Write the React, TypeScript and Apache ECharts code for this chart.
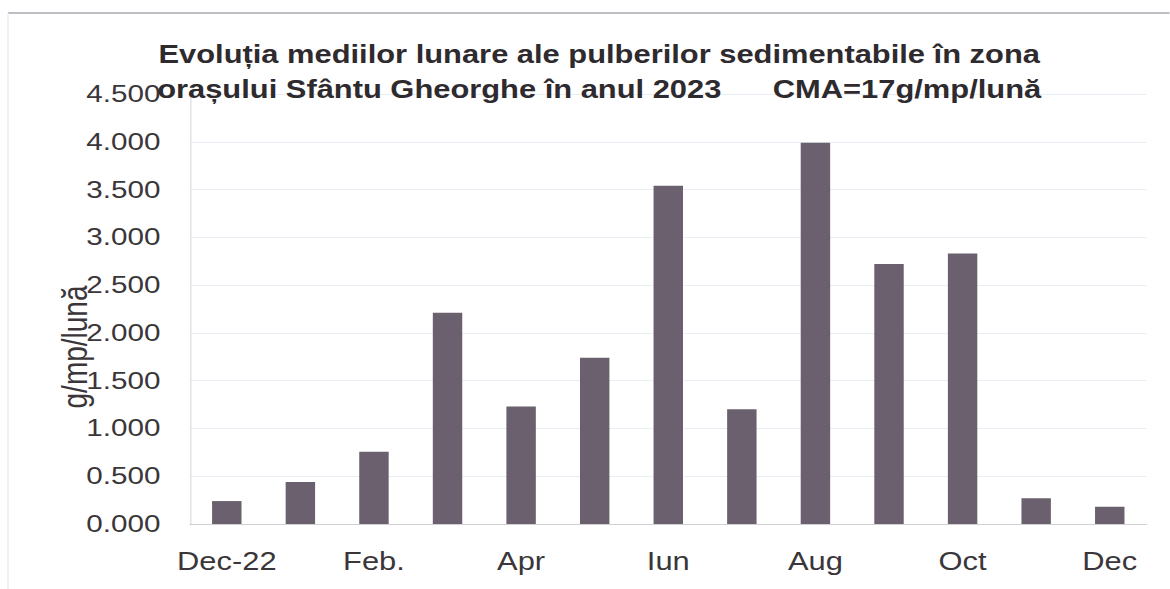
import React, { useEffect, useRef } from "react";
import * as echarts from "echarts";

const months = ["Dec-22", "Ian.", "Feb.", "Mar", "Apr", "Mai", "Iun", "Iul", "Aug", "Sep", "Oct", "Nov", "Dec"];
const values = [0.24, 0.44, 0.755, 2.21, 1.23, 1.74, 3.54, 1.2, 3.99, 2.72, 2.83, 0.27, 0.18];
const titleLines = [
  "Evoluția mediilor lunare ale pulberilor sedimentabile în zona",
  "orașului Sfântu Gheorghe în anul 2023      CMA=17g/mp/lună",
];
const yAxisName = "g/mp/lună";

// the reference is a horizontally stretched scan: draw narrower and stretch
const SX = 1.235;
const W = 1170 / SX;

export default function App() {
  const ref = useRef<HTMLDivElement>(null);
  useEffect(() => {
    const chart = echarts.init(ref.current!, null, { renderer: "svg" });
    chart.setOption({
      animation: false,
      backgroundColor: "#ffffff",
      textStyle: { fontFamily: "Liberation Sans, Arial, sans-serif" },
      title: {
        text: titleLines.join("\n"),
        left: 593 / SX,
        textAlign: "center",
        top: 32,
        textStyle: {
          fontFamily: "Liberation Sans, Arial, sans-serif",
          fontWeight: "bold",
          fontSize: 25,
          lineHeight: 35,
          color: "#2e2a2e",
        },
      },
      graphic: [
        { type: "line", shape: { x1: 8 / SX, y1: 13, x2: W, y2: 13 }, style: { stroke: "#a9a9b0", lineWidth: 1.5 } },
        { type: "line", shape: { x1: 8 / SX, y1: 13, x2: 8 / SX, y2: 589 }, style: { stroke: "#e4eaf0", lineWidth: 1 } },
      ],
      grid: { left: 190 / SX, right: 23 / SX, top: 94, bottom: 65 },
      xAxis: {
        type: "category",
        data: months,
        axisLine: { show: true, lineStyle: { color: "#cfcfd4", width: 1 } },
        axisTick: { show: false },
        axisLabel: {
          interval: 1,
          fontSize: 25,
          color: "#3a363a",
          margin: 25,
        },
      },
      yAxis: {
        type: "value",
        min: 0,
        max: 4.5,
        interval: 0.5,
        name: yAxisName,
        nameLocation: "middle",
        nameGap: 79,
        nameRotate: 90,
        nameMoveOverlap: false,
        nameTextStyle: { fontSize: 28, color: "#3a363a", padding: [0, 76, 0, 0] },
        axisLine: { show: true, lineStyle: { color: "#dcdce2" } },
        axisTick: { show: false },
        splitLine: { lineStyle: { color: "#e8eef3", width: 1 } },
        axisLabel: {
          fontSize: 24,
          color: "#3a363a",
          margin: 24,
          formatter: (v: number) => v.toFixed(3),
        },
      },
      series: [
        {
          type: "bar",
          data: values,
          barWidth: "40%",
          itemStyle: { color: "#6b606d" },
        },
      ],
    });
    return () => chart.dispose();
  }, []);
  return (
    <div
      ref={ref}
      style={{
        width: W,
        height: 589,
        position: "absolute",
        left: 0,
        top: 0,
        transform: `scaleX(${SX})`,
        transformOrigin: "0 0",
      }}
    />
  );
}
